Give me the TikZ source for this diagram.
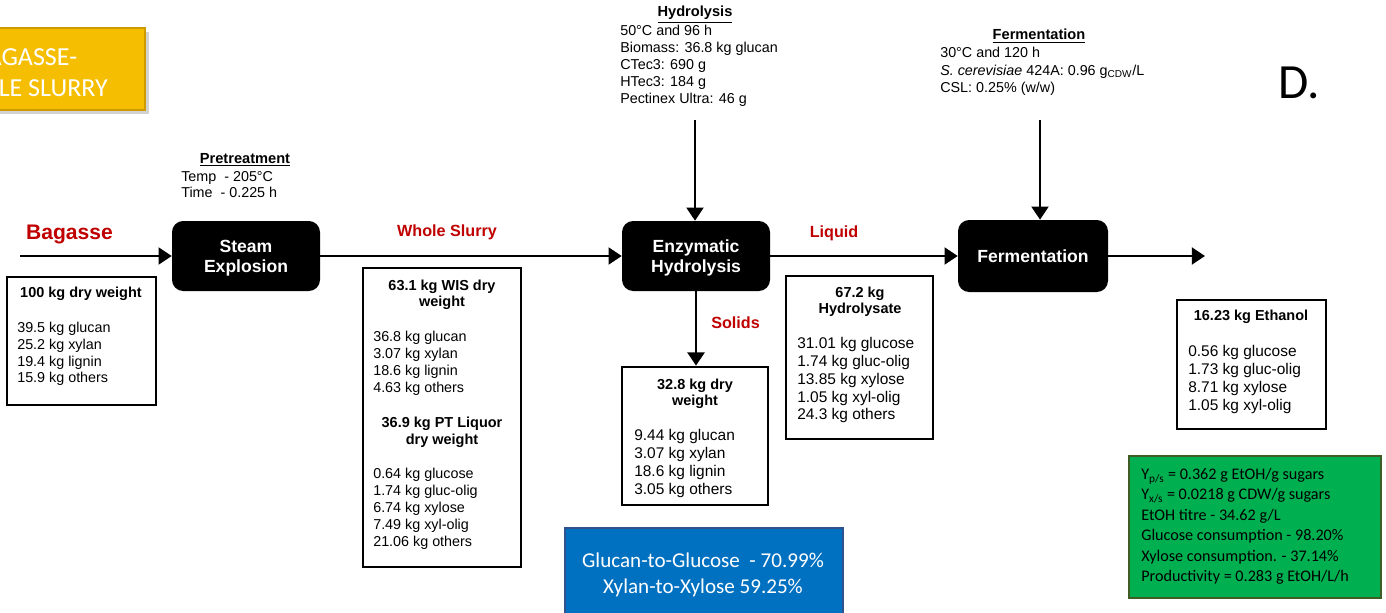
\documentclass[tikz,border=0pt]{standalone}
\usepackage{fontspec}
\setmainfont{Liberation Sans}
\newfontfamily\calibri{Carlito}
\usetikzlibrary{arrows.meta,fit,shadows}

\definecolor{flowred}{RGB}{192,0,0}
\definecolor{padgold}{RGB}{245,190,0}
\definecolor{goldedge}{RGB}{205,155,0}
\definecolor{padblue}{RGB}{0,112,192}
\definecolor{blueedge}{RGB}{47,82,143}
\definecolor{padgreen}{RGB}{0,176,80}
\definecolor{greenedge}{RGB}{62,92,35}

\begin{document}
\begin{tikzpicture}[x=0.25mm, y=-0.25mm,
    flow/.style={line width=2pt, -{Triangle[length=3.3mm,width=4.2mm]}},
    process/.style={fill=black, rounded corners=2.8mm, inner sep=0pt, text=white,
      minimum width=37mm, minimum height=17.5mm, text depth=0pt,
      align=center, font=\fontsize{12.5}{14.2}\selectfont\bfseries},
    databox/.style={draw, line width=1.9pt, inner sep=0pt},
    body/.style={inner sep=0pt, anchor=north west, align=left,
      font=\fontsize{10.2}{12.1}\selectfont},
    bodyl/.style={body, font=\fontsize{11}{12.6}\selectfont},
    boxhead/.style={inner sep=0pt, anchor=north, align=center,
      font=\fontsize{10.3}{11.5}\selectfont\bfseries},
    stephead/.style={inner sep=0pt, anchor=base, font=\fontsize{10.4}{12}\selectfont\bfseries},
    streamlbl/.style={inner sep=0pt, anchor=base, text=flowred,
      font=\fontsize{11.5}{13}\selectfont\bfseries}]

  % page, px grid (y down)
  \clip (0,0) rectangle (1386,612);
  \fill[white] (0,0) rectangle (1386,612);

  % title pad and panel letter
  \node[fill=padgold, draw=goldedge, line width=0.8pt, inner sep=0pt,
    drop shadow={shadow xshift=1mm, shadow yshift=-1mm, opacity=0.35},
    fit={(-93,28) (145,110)}] (pad) {};
  \node[inner sep=0pt, anchor=north, align=center, text=white,
    font=\calibri\fontsize{18.5}{22.5}\selectfont] (padtitle) at (25,48) {BAGASSE-\\WHOLE SLURRY};
  \node[inner sep=0pt, anchor=base west, font=\calibri\fontsize{35}{40}\selectfont] (panel) at (1278,98.5) {D.};

  % process steps
  \node[process] (steam) at (246,256) {Steam\\Explosion};
  \node[process] (enz) at (696,256) {Enzymatic\\Hydrolysis};
  \node[process, minimum width=37.5mm, minimum height=18mm] (ferm) at (1033,256) {Fermentation};

  % conditions
  \node[stephead] (prehead) at (245,163.3) {\underline{Pretreatment}};
  \node[body, font=\fontsize{10.2}{11.4}\selectfont] (precond) at (181,171) {Temp~ - 205°C\\Time~ - 0.225 h};
  \node[stephead] (hydhead) at (695,17) {\underline{Hydrolysis}};
  \node[body] (hydcond) at (620,25) {50°C and 96 h\\Biomass: 36.8 kg glucan\\CTec3: 690 g\\HTec3: 184 g\\Pectinex Ultra: 46 g};
  \node[stephead] (fermhead) at (1039,40) {\underline{Fermentation}};
  \node[body, font=\fontsize{10.2}{12.4}\selectfont] (fermcond) at (940,47) {30°C and 120 h\\\textit{S. cerevisiae} 424A: 0.96 g\textsubscript{CDW}/L\\CSL: 0.25\% (w/w)};

  % streams
  \coordinate (feed) at (20,256);
  \coordinate (enzfeed) at (695,120);
  \coordinate (fermfeed) at (1040,120);
  \coordinate (product) at (1205,256);
  \draw[flow] (feed) -- (steam.west);
  \draw[flow] (steam.east) -- (enz.west);
  \draw[flow] (enz.east) -- (ferm.west);
  \draw[flow] (ferm.east) -- (product);
  \draw[flow] (enzfeed) -- (enzfeed |- enz.north);
  \draw[flow] (fermfeed) -- (fermfeed |- ferm.north);

  \node[streamlbl, font=\fontsize{15}{17}\selectfont\bfseries] (lblbag) at (69.5,239.5) {Bagasse};
  \node[streamlbl] (lblslurry) at (447,236.8) {Whole Slurry};
  \node[streamlbl] (lblliq) at (834,237.8) {Liquid};
  \node[streamlbl] (lblsol) at (735.5,328.8) {Solids};

  % mass balance boxes
  \node[databox, fit={(7,277) (156,405)}] (bagbox) {};
  \node[boxhead] (bagtitle) at (81,287) {100 kg dry weight};
  \node[body, font=\fontsize{10.2}{11.9}\selectfont] (baglist) at (17,322) {39.5 kg glucan\\25.2 kg xylan\\19.4 kg lignin\\15.9 kg others};

  \node[databox, fit={(363,268) (521,567)}] (wisbox) {};
  \node[boxhead] (wistitle) at (442,280) {63.1 kg WIS dry\\weight};
  \node[body] (wislist) at (373,331) {36.8 kg glucan\\3.07 kg xylan\\18.6 kg lignin\\4.63 kg others};
  \node[boxhead, font=\fontsize{10.3}{12}\selectfont\bfseries] (pltitle) at (442,417) {36.9 kg PT Liquor\\dry weight};
  \node[body] (pllist) at (373,468) {0.64 kg glucose\\1.74 kg gluc-olig\\6.74 kg xylose\\7.49 kg xyl-olig\\21.06 kg others};

  \node[databox, fit={(622,367) (768,505)}] (solbox) {};
  \node[boxhead] (soltitle) at (695,379) {32.8 kg dry\\weight};
  \node[bodyl] (sollist) at (634,429.5) {9.44 kg glucan\\3.07 kg xylan\\18.6 kg lignin\\3.05 kg others};
  \draw[flow] (enz.south) -- (enz.south |- solbox.north);

  \node[databox, fit={(786,276) (933,439)}] (hydbox) {};
  \node[boxhead] (hydtitle) at (860,287) {67.2 kg\\Hydrolysate};
  \node[bodyl] (hydlist) at (797,337.5) {31.01 kg glucose\\1.74 kg gluc-olig\\13.85 kg xylose\\1.05 kg xyl-olig\\24.3 kg others};

  \node[databox, fit={(1177,300) (1326,429)}] (ethbox) {};
  \node[boxhead] (ethtitle) at (1251,310) {16.23 kg Ethanol};
  \node[bodyl] (ethlist) at (1188,345.5) {0.56 kg glucose\\1.73 kg gluc-olig\\8.71 kg xylose\\1.05 kg xyl-olig};

  % yields
  \node[fill=padgreen, draw=greenedge, line width=1.5pt, inner sep=0pt,
    fit={(1129,456) (1381,598)}] (yieldbox) {};
  \node[body, font=\calibri\fontsize{11.5}{14.5}\selectfont] (yields) at (1141,468)
    {Y\textsubscript{p/s} = 0.362 g EtOH/g sugars\\Y\textsubscript{x/s} = 0.0218 g CDW/g sugars\\EtOH titre - 34.62 g/L\\Glucose consumption - 98.20\%\\Xylose consumption. - 37.14\%\\Productivity = 0.283 g EtOH/L/h};

  \node[fill=padblue, draw=blueedge, line width=1pt, inner sep=0pt,
    fit={(565,528) (843,640)}] (convbox) {};
  \node[inner sep=0pt, anchor=north, align=center, text=white,
    font=\calibri\fontsize{15}{18.5}\selectfont] (conv) at (703,553) {Glucan-to-Glucose~ - 70.99\%\\Xylan-to-Xylose 59.25\%};
\end{tikzpicture}
\end{document}
